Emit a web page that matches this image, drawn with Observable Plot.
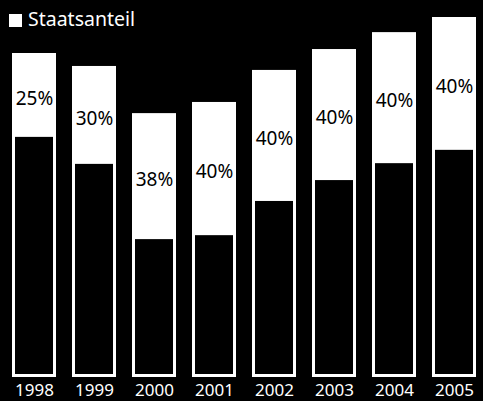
<!DOCTYPE html>
<html>
<head>
<meta charset="utf-8">
<script src="https://cdn.jsdelivr.net/npm/d3@7"></script>
<script src="https://cdn.jsdelivr.net/npm/@observablehq/plot@0.6"></script>
<style>
  html, body { margin: 0; padding: 0; background: #000; }
  #wrap { position: relative; width: 483px; height: 401px; overflow: hidden; }
  #legend { position: absolute; left: 9px; top: 5px; color: #fff; font-family: "Noto Sans", sans-serif; font-size: 19.5px; display: flex; align-items: center; gap: 6px; }
  #legend .sw { width: 13px; height: 13px; background: #fff; display: inline-block; margin-top: 4px; }
</style>
</head>
<body>
<div id="wrap">
  <div id="chart"></div>
  <div id="legend"><span class="sw"></span><span>Staatsanteil</span></div>
</div>
<script>
// Values (arbitrary index units, tallest bar = 100)
const years = ["1998", "1999", "2000", "2001", "2002", "2003", "2004", "2005"];
const gesamt = [90.0, 86.4, 73.3, 76.4, 85.3, 91.1, 95.8, 100.0];   // total bar height
const privat = [66.7, 59.2, 38.3, 39.4, 48.9, 54.7, 59.4, 63.1];    // black (non-state) part
const staatsanteil = ["25%", "30%", "38%", "40%", "40%", "40%", "40%", "40%"];

const data = years.map((y, i) => ({
  year: y,
  total: gesamt[i],
  priv: privat[i],
  label: staatsanteil[i],
  mid: (gesamt[i] + privat[i]) / 2
}));

const chart = Plot.plot({
  width: 483,
  height: 401,
  marginTop: 17,
  marginBottom: 24,
  marginLeft: 9,
  marginRight: 4,
  style: { background: "#000", fontFamily: "Noto Sans, sans-serif" },
  x: { domain: years, paddingInner: 0.27, paddingOuter: 0, label: null },
  y: { domain: [0, 100], axis: null },
  marks: [
    Plot.barY(data, { x: "year", y1: 0, y2: "total", fill: "#fff" }),
    Plot.barY(data, { x: "year", y1: 0, y2: "priv", fill: "#000", insetLeft: 3, insetRight: 3, insetBottom: 3 }),
    Plot.text(data, { x: "year", y: "mid", text: "label", fill: "#000", fontSize: 19, textAnchor: "middle", dy: 3 }),
    Plot.axisX({ tickSize: 0, tickPadding: 6, fontSize: 17, color: "#fff", label: null })
  ]
});
document.getElementById("chart").appendChild(chart);
</script>
</body>
</html>
